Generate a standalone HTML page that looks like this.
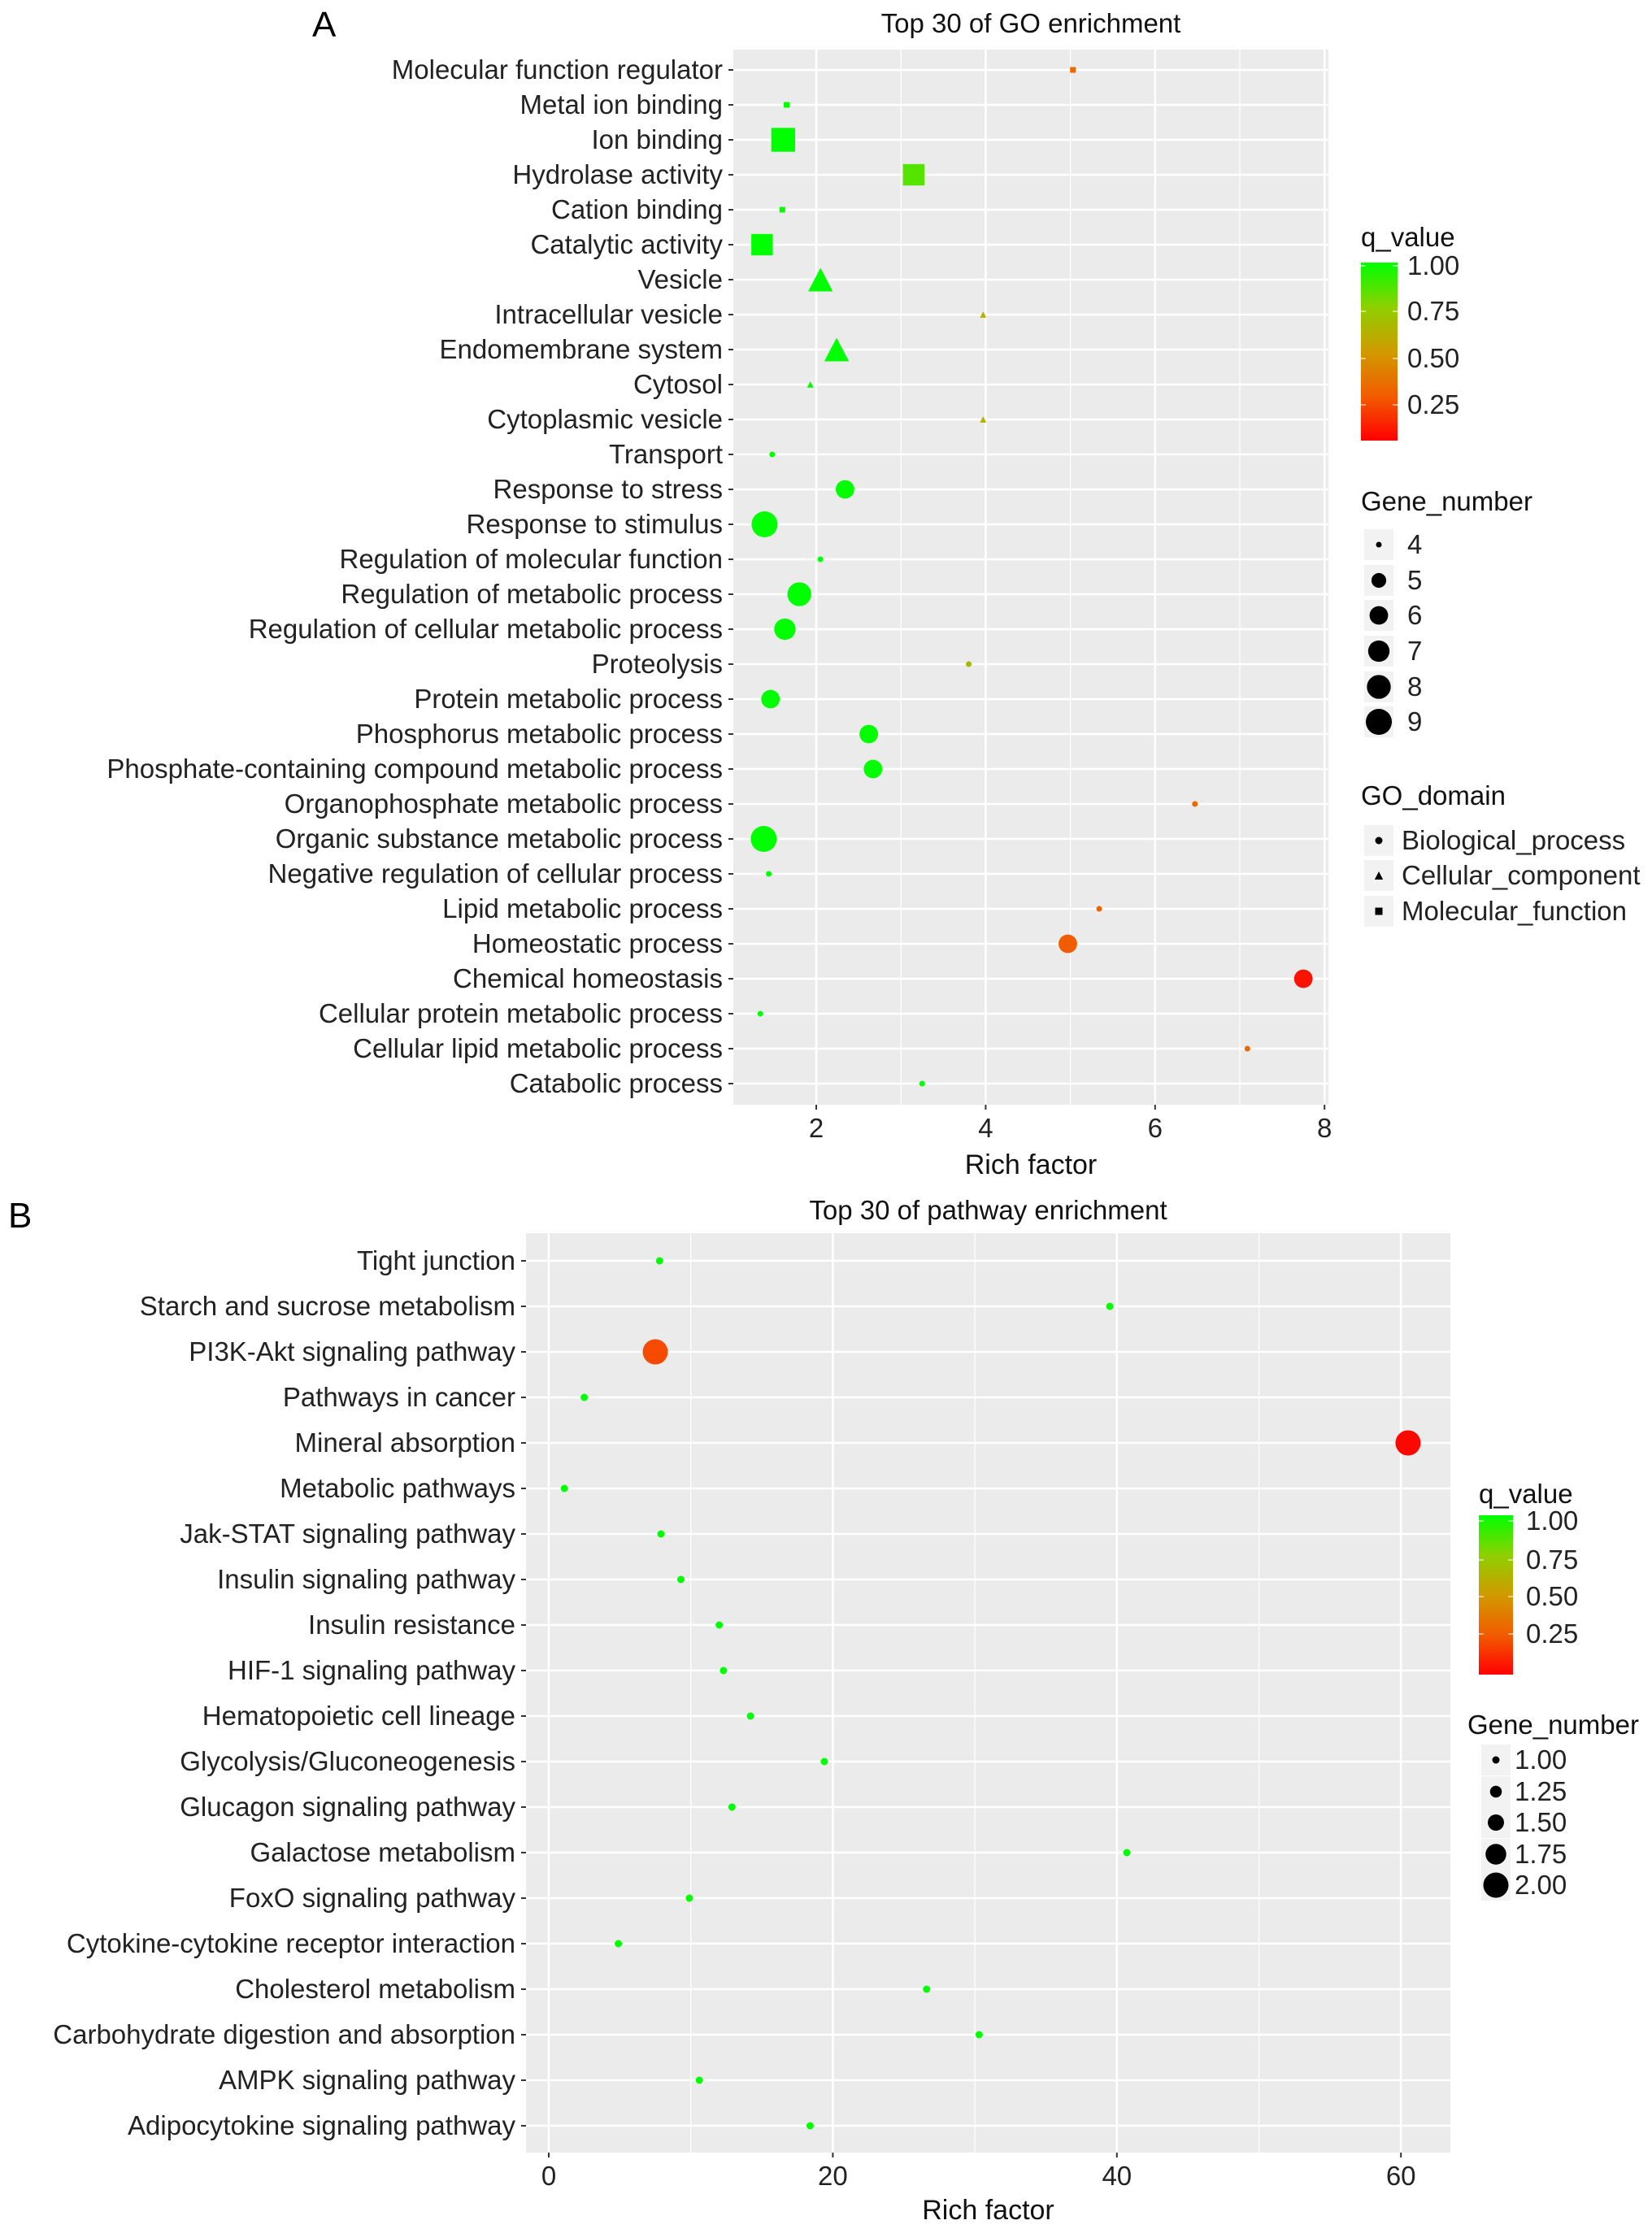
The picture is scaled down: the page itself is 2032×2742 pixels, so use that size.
<!DOCTYPE html>
<html><head><meta charset="utf-8">
<style>
html,body{margin:0;padding:0;background:#fff;}
svg{display:block;font-family:"Liberation Sans",Arial,sans-serif;}
</style></head>
<body>
<svg id="chart" width="2032" height="2742" viewBox="0 0 2032 2742" xmlns="http://www.w3.org/2000/svg">
<defs>
<linearGradient id="qgrad" x1="0" y1="1" x2="0" y2="0">
<stop offset="0" stop-color="#ff0000"/>
<stop offset="0.25" stop-color="#f25c00"/>
<stop offset="0.5" stop-color="#d09a00"/>
<stop offset="0.75" stop-color="#8ed000"/>
<stop offset="1" stop-color="#00ff00"/>
</linearGradient>
</defs>
</svg>
<script>
// ---------- Panel A data ----------
const goTerms = ["Molecular function regulator","Metal ion binding","Ion binding","Hydrolase activity","Cation binding","Catalytic activity","Vesicle","Intracellular vesicle","Endomembrane system","Cytosol","Cytoplasmic vesicle","Transport","Response to stress","Response to stimulus","Regulation of molecular function","Regulation of metabolic process","Regulation of cellular metabolic process","Proteolysis","Protein metabolic process","Phosphorus metabolic process","Phosphate-containing compound metabolic process","Organophosphate metabolic process","Organic substance metabolic process","Negative regulation of cellular process","Lipid metabolic process","Homeostatic process","Chemical homeostasis","Cellular protein metabolic process","Cellular lipid metabolic process","Catabolic process"];
const goRich = [5.03,1.65,1.61,3.15,1.6,1.36,2.05,3.97,2.24,1.93,3.97,1.48,2.34,1.39,2.05,1.8,1.63,3.8,1.46,2.62,2.67,6.47,1.38,1.44,5.34,4.97,7.75,1.34,7.09,3.25];
const goQ = [0.3,1,1,0.85,1,1,1,0.6,1,1,0.6,1,1,1,1,1,1,0.65,1,1,1,0.3,1,1,0.3,0.25,0.05,1,0.3,1];
const goGenes = [4,4,8,7,4,7,7,4,7,4,4,4,6,9,4,8,7,4,6,6,6,4,9,4,4,6,6,4,4,4];
const goDomain = ["MF","MF","MF","MF","MF","MF","CC","CC","CC","CC","CC","BP","BP","BP","BP","BP","BP","BP","BP","BP","BP","BP","BP","BP","BP","BP","BP","BP","BP","BP"];
const goTicks = [2,4,6,8];
const goMinor = [1,3,5,7];
// ---------- Panel B data ----------
const pwTerms = ["Tight junction","Starch and sucrose metabolism","PI3K-Akt signaling pathway","Pathways in cancer","Mineral absorption","Metabolic pathways","Jak-STAT signaling pathway","Insulin signaling pathway","Insulin resistance","HIF-1 signaling pathway","Hematopoietic cell lineage","Glycolysis/Gluconeogenesis","Glucagon signaling pathway","Galactose metabolism","FoxO signaling pathway","Cytokine-cytokine receptor interaction","Cholesterol metabolism","Carbohydrate digestion and absorption","AMPK signaling pathway","Adipocytokine signaling pathway"];
const pwRich = [7.8,39.5,7.5,2.5,60.5,1.1,7.9,9.3,12.0,12.3,14.2,19.4,12.9,40.7,9.9,4.9,26.6,30.3,10.6,18.4];
const pwQ = [1,1,0.2,1,0.02,1,1,1,1,1,1,1,1,1,1,1,1,1,1,1];
const pwGenes = [1,1,2,1,2,1,1,1,1,1,1,1,1,1,1,1,1,1,1,1];
const pwTicks = [0,20,40,60];
const pwMinor = [10,30,50];
const goSizeLegend = [4,5,6,7,8,9];
const pwSizeLegend = [1.00,1.25,1.50,1.75,2.00];
const qLegend = [1.00,0.75,0.50,0.25];

const FS=33;
const NS="http://www.w3.org/2000/svg";
const svg=document.getElementById('chart');
function el(tag,attrs,parent,text){const e=document.createElementNS(NS,tag);for(const k in attrs)e.setAttribute(k,attrs[k]);if(text!==undefined)e.textContent=text;(parent||svg).appendChild(e);return e;}
function hex(c){return Math.round(c).toString(16).padStart(2,'0');}
const cstops=[[0,[255,0,0]],[0.25,[242,92,0]],[0.5,[208,154,0]],[0.75,[142,208,0]],[1,[0,255,0]]];
function qColor(q){q=Math.max(0,Math.min(1,q));for(let i=1;i<cstops.length;i++){if(q<=cstops[i][0]){const a=cstops[i-1],b=cstops[i];const t=(q-a[0])/(b[0]-a[0]);return '#'+[0,1,2].map(k=>hex(a[1][k]+(b[1][k]-a[1][k])*t)).join('');}}return '#00ff00';}

function shape(g,type,cx,cy,d,fill){
  if(type==='MF'){return el('rect',{x:cx-d/2,y:cy-d/2,width:d,height:d,fill:fill},g);}
  if(type==='CC'){const h=d*1.1;return el('polygon',{points:`${cx},${cy-h/2} ${cx+d/2*1.15},${cy+h/2} ${cx-d/2*1.15},${cy+h/2}`,fill:fill},g);}
  return el('circle',{cx:cx,cy:cy,r:d/2,fill:fill},g);
}

function panel(o){
  const g=el('g',{});
  
  
  const xs=v=>o.x0px+(v-o.x0v)*o.pxPer;
  const ys=i=>o.row0+i*o.rowStep;
  const bg=el('rect',{x:o.left,y:o.top,width:o.right-o.left,height:o.bottom-o.top,fill:'#ebebeb'},g);
  
  
  o.minor.forEach(v=>el('line',{x1:xs(v),x2:xs(v),y1:o.top,y2:o.bottom,stroke:'#fff','stroke-width':1.2},g));
  o.ticks.forEach(v=>el('line',{x1:xs(v),x2:xs(v),y1:o.top,y2:o.bottom,stroke:'#fff','stroke-width':2.6},g));
  o.terms.forEach((t,i)=>{
    el('line',{x1:o.left,x2:o.right,y1:ys(i),y2:ys(i),stroke:'#fff','stroke-width':2.6},g);
    el('line',{x1:o.left-6,x2:o.left,y1:ys(i),y2:ys(i),stroke:'#333','stroke-width':2},g);
    const lb=el('text',{x:o.left-13,y:ys(i)+11,'text-anchor':'end','font-size':FS,fill:'#222'},g,t);
    
    
  });
  o.ticks.forEach(v=>{
    el('line',{x1:xs(v),x2:xs(v),y1:o.bottom,y2:o.bottom+6,stroke:'#333','stroke-width':2},g);
    const tl=el('text',{x:xs(v),y:o.bottom+40,'text-anchor':'middle','font-size':FS,fill:'#222'},g,String(v));
    
    
  });
  o.terms.forEach((t,i)=>{
    const d=o.size(o.genes[i]);
    const m=shape(g,o.domain?o.domain[i]:'BP',xs(o.rich[i]),ys(i),d,qColor(o.q[i]));
    
    
  });
  const xt=el('text',{x:(o.left+o.right)/2,y:o.xTitleY,'text-anchor':'middle','font-size':34,fill:'#111'},g,'Rich factor');
  
  
  const tt=el('text',{x:(o.left+o.right)/2,y:o.titleY,'text-anchor':'middle','font-size':33,fill:'#111'},g,o.title);
  
  
}

panel({name:'go-enrichment-panel',left:902,right:1634,top:61,bottom:1359,x0v:2,x0px:1004,pxPer:104.2,row0:86,rowStep:43.0,
  ticks:goTicks,minor:goMinor,terms:goTerms,rich:goRich,q:goQ,genes:goGenes,domain:goDomain,
  size:n=>7+25*Math.sqrt((n-4)/5),xTitleY:1444,titleY:40,title:'Top 30 of GO enrichment'});
panel({name:'pathway-enrichment-panel',left:647,right:1784,top:1517,bottom:2648,x0v:0,x0px:675,pxPer:17.47,row0:1551,rowStep:56.0,
  ticks:pwTicks,minor:pwMinor,terms:pwTerms,rich:pwRich,q:pwQ,genes:pwGenes,domain:null,
  size:n=>9+22*(n-1),xTitleY:2730,titleY:1500,title:'Top 30 of pathway enrichment'});

let t=el('text',{x:384,y:45,'font-size':44,fill:'#000'},svg,'A');


t=el('text',{x:10,y:1510,'font-size':44,fill:'#000'},svg,'B');



function colorLegend(name,x,titleY,barTop,barBottom,barW,labelYs,labelX){
  const g=el('g',{});
  
  
  el('text',{x:x,y:titleY+11,'font-size':FS,fill:'#111'},g,'q_value');
  el('rect',{x:x,y:barTop,width:barW,height:barBottom-barTop,fill:'url(#qgrad)'},g);
  qLegend.forEach((v,i)=>{
    el('line',{x1:x,x2:x+6,y1:labelYs[i],y2:labelYs[i],stroke:'#fff','stroke-width':1.5,opacity:0.7},g);
    el('line',{x1:x+barW-6,x2:x+barW,y1:labelYs[i],y2:labelYs[i],stroke:'#fff','stroke-width':1.5,opacity:0.7},g);
    el('text',{x:labelX,y:labelYs[i]+11,'font-size':FS,fill:'#222'},g,v.toFixed(2));
  });
}
colorLegend('q-value-legend-a',1674,292,323,542,45,[327,383,441,498],1731);
colorLegend('q-value-legend-b',1819,1838,1864,2060,42,[1871,1919,1964,2010],1877);

function sizeLegend(name,x,titleY,ys,vals,size,dotX,labelX,fmt){
  const g=el('g',{});
  
  
  el('text',{x:x,y:titleY+11,'font-size':FS,fill:'#111'},g,'Gene_number');
  vals.forEach((v,i)=>{
    el('rect',{x:dotX-18,y:ys[i]-19,width:36,height:38,fill:'#f2f2f2'},g);
    el('circle',{cx:dotX,cy:ys[i],r:size(v)/2,fill:'#000'},g);
    el('text',{x:labelX,y:ys[i]+11,'font-size':FS,fill:'#222'},g,fmt(v));
  });
}
sizeLegend('gene-number-legend-a',1674,617,[670,714,757,801,845,888],goSizeLegend,n=>7+25*Math.sqrt((n-4)/5),1696,1731,v=>String(v));
sizeLegend('gene-number-legend-b',1805,2122,[2165,2204,2242,2281,2319],pwSizeLegend,n=>9+22*(n-1),1840,1863,v=>v.toFixed(2));

const dg=el('g',{});


el('text',{x:1674,y:990,'font-size':FS,fill:'#111'},dg,'GO_domain');
[['BP','Biological_process',1034],['CC','Cellular_component',1077],['MF','Molecular_function',1121]].forEach(e=>{
  el('rect',{x:1678,y:e[2]-19,width:36,height:38,fill:'#f2f2f2'},dg);
  shape(dg,e[0],1696,e[2],9,'#000');
  el('text',{x:1724,y:e[2]+11,'font-size':FS,fill:'#222'},dg,e[1]);
});
</script>
</body></html>
